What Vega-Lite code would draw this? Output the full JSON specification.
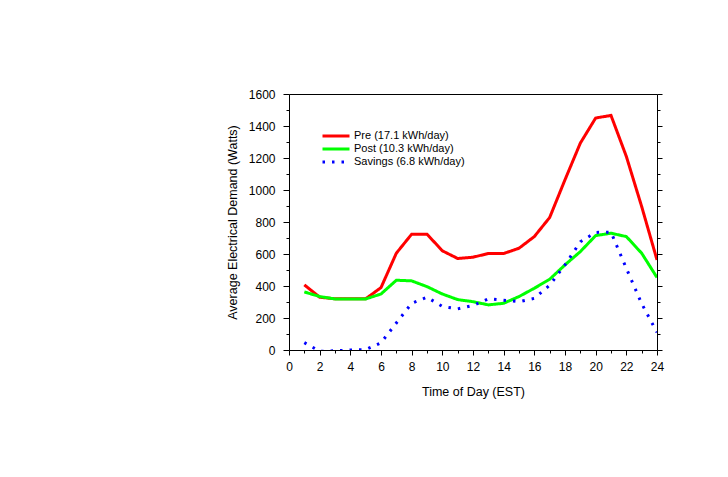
{
  "$schema": "https://vega.github.io/schema/vega-lite/v6.json",
  "width": 368,
  "height": 256,
  "autosize": "none",
  "padding": {"left": 289, "top": 94, "right": 71, "bottom": 127},
  "background": "white",
  "data": {
    "values": [
      {"hour": 1, "series": "Pre (17.1 kWh/day)", "watts": 407},
      {"hour": 2, "series": "Pre (17.1 kWh/day)", "watts": 330},
      {"hour": 3, "series": "Pre (17.1 kWh/day)", "watts": 320},
      {"hour": 4, "series": "Pre (17.1 kWh/day)", "watts": 320},
      {"hour": 5, "series": "Pre (17.1 kWh/day)", "watts": 320},
      {"hour": 6, "series": "Pre (17.1 kWh/day)", "watts": 390},
      {"hour": 7, "series": "Pre (17.1 kWh/day)", "watts": 605},
      {"hour": 8, "series": "Pre (17.1 kWh/day)", "watts": 724},
      {"hour": 9, "series": "Pre (17.1 kWh/day)", "watts": 724},
      {"hour": 10, "series": "Pre (17.1 kWh/day)", "watts": 620},
      {"hour": 11, "series": "Pre (17.1 kWh/day)", "watts": 572},
      {"hour": 12, "series": "Pre (17.1 kWh/day)", "watts": 580},
      {"hour": 13, "series": "Pre (17.1 kWh/day)", "watts": 603},
      {"hour": 14, "series": "Pre (17.1 kWh/day)", "watts": 603},
      {"hour": 15, "series": "Pre (17.1 kWh/day)", "watts": 636},
      {"hour": 16, "series": "Pre (17.1 kWh/day)", "watts": 709},
      {"hour": 17, "series": "Pre (17.1 kWh/day)", "watts": 828},
      {"hour": 18, "series": "Pre (17.1 kWh/day)", "watts": 1064},
      {"hour": 19, "series": "Pre (17.1 kWh/day)", "watts": 1293},
      {"hour": 20, "series": "Pre (17.1 kWh/day)", "watts": 1450},
      {"hour": 21, "series": "Pre (17.1 kWh/day)", "watts": 1466},
      {"hour": 22, "series": "Pre (17.1 kWh/day)", "watts": 1210},
      {"hour": 23, "series": "Pre (17.1 kWh/day)", "watts": 897},
      {"hour": 24, "series": "Pre (17.1 kWh/day)", "watts": 563},
      {"hour": 1, "series": "Post (10.3 kWh/day)", "watts": 363},
      {"hour": 2, "series": "Post (10.3 kWh/day)", "watts": 334},
      {"hour": 3, "series": "Post (10.3 kWh/day)", "watts": 319},
      {"hour": 4, "series": "Post (10.3 kWh/day)", "watts": 319},
      {"hour": 5, "series": "Post (10.3 kWh/day)", "watts": 319},
      {"hour": 6, "series": "Post (10.3 kWh/day)", "watts": 350},
      {"hour": 7, "series": "Post (10.3 kWh/day)", "watts": 436},
      {"hour": 8, "series": "Post (10.3 kWh/day)", "watts": 432},
      {"hour": 9, "series": "Post (10.3 kWh/day)", "watts": 396},
      {"hour": 10, "series": "Post (10.3 kWh/day)", "watts": 350},
      {"hour": 11, "series": "Post (10.3 kWh/day)", "watts": 315},
      {"hour": 12, "series": "Post (10.3 kWh/day)", "watts": 302},
      {"hour": 13, "series": "Post (10.3 kWh/day)", "watts": 282},
      {"hour": 14, "series": "Post (10.3 kWh/day)", "watts": 292},
      {"hour": 15, "series": "Post (10.3 kWh/day)", "watts": 334},
      {"hour": 16, "series": "Post (10.3 kWh/day)", "watts": 386},
      {"hour": 17, "series": "Post (10.3 kWh/day)", "watts": 442},
      {"hour": 18, "series": "Post (10.3 kWh/day)", "watts": 532},
      {"hour": 19, "series": "Post (10.3 kWh/day)", "watts": 615},
      {"hour": 20, "series": "Post (10.3 kWh/day)", "watts": 715},
      {"hour": 21, "series": "Post (10.3 kWh/day)", "watts": 730},
      {"hour": 22, "series": "Post (10.3 kWh/day)", "watts": 709},
      {"hour": 23, "series": "Post (10.3 kWh/day)", "watts": 605},
      {"hour": 24, "series": "Post (10.3 kWh/day)", "watts": 453},
      {"hour": 1, "series": "Savings (6.8 kWh/day)", "watts": 46},
      {"hour": 2, "series": "Savings (6.8 kWh/day)", "watts": -8},
      {"hour": 3, "series": "Savings (6.8 kWh/day)", "watts": -5},
      {"hour": 4, "series": "Savings (6.8 kWh/day)", "watts": 0},
      {"hour": 5, "series": "Savings (6.8 kWh/day)", "watts": 3},
      {"hour": 6, "series": "Savings (6.8 kWh/day)", "watts": 45},
      {"hour": 7, "series": "Savings (6.8 kWh/day)", "watts": 169},
      {"hour": 8, "series": "Savings (6.8 kWh/day)", "watts": 292},
      {"hour": 9, "series": "Savings (6.8 kWh/day)", "watts": 330},
      {"hour": 10, "series": "Savings (6.8 kWh/day)", "watts": 272},
      {"hour": 11, "series": "Savings (6.8 kWh/day)", "watts": 257},
      {"hour": 12, "series": "Savings (6.8 kWh/day)", "watts": 278},
      {"hour": 13, "series": "Savings (6.8 kWh/day)", "watts": 320},
      {"hour": 14, "series": "Savings (6.8 kWh/day)", "watts": 311},
      {"hour": 15, "series": "Savings (6.8 kWh/day)", "watts": 302},
      {"hour": 16, "series": "Savings (6.8 kWh/day)", "watts": 323},
      {"hour": 17, "series": "Savings (6.8 kWh/day)", "watts": 405},
      {"hour": 18, "series": "Savings (6.8 kWh/day)", "watts": 532},
      {"hour": 19, "series": "Savings (6.8 kWh/day)", "watts": 676},
      {"hour": 20, "series": "Savings (6.8 kWh/day)", "watts": 735},
      {"hour": 21, "series": "Savings (6.8 kWh/day)", "watts": 736},
      {"hour": 22, "series": "Savings (6.8 kWh/day)", "watts": 510},
      {"hour": 23, "series": "Savings (6.8 kWh/day)", "watts": 290},
      {"hour": 24, "series": "Savings (6.8 kWh/day)", "watts": 110}
    ]
  },
  "resolve": {"axis": {"x": "independent", "y": "independent"}},
  "layer": [
    {
      "mark": {"type": "line", "clip": true, "strokeCap": "butt", "strokeJoin": "miter"},
      "encoding": {
        "x": {
          "field": "hour", "type": "quantitative",
          "scale": {"domain": [0, 24], "nice": false, "zero": false},
          "axis": {
            "orient": "bottom",
            "values": [0, 2, 4, 6, 8, 10, 12, 14, 16, 18, 20, 22, 24],
            "tickSize": 5, "labelPadding": 6, "title": "Time of Day (EST)",
            "titlePadding": 13, "titleFontSize": 12.5
          }
        },
        "y": {
          "field": "watts", "type": "quantitative",
          "scale": {"domain": [0, 1600], "nice": false},
          "axis": {
            "orient": "left", "format": "d",
            "values": [0, 200, 400, 600, 800, 1000, 1200, 1400, 1600],
            "tickSize": 6, "labelPadding": 8, "title": "Average Electrical Demand (Watts)",
            "titlePadding": 9, "titleFontSize": 12.5
          }
        },
        "color": {
          "field": "series", "type": "nominal",
          "scale": {
            "domain": ["Pre (17.1 kWh/day)", "Post (10.3 kWh/day)", "Savings (6.8 kWh/day)"],
            "range": ["#ff0000", "#00ff00", "#0000ff"]
          },
          "legend": {"orient": "none", "legendX": 40.5, "legendY": 35.5, "title": null}
        },
        "strokeDash": {
          "field": "series", "type": "nominal",
          "scale": {
            "domain": ["Pre (17.1 kWh/day)", "Post (10.3 kWh/day)", "Savings (6.8 kWh/day)"],
            "range": [[1, 0], [1, 0], [2.5, 7]]
          },
          "legend": {"orient": "none", "legendX": 40.5, "legendY": 35.5, "title": null}
        },
        "strokeWidth": {
          "field": "series", "type": "nominal",
          "scale": {
            "domain": ["Pre (17.1 kWh/day)", "Post (10.3 kWh/day)", "Savings (6.8 kWh/day)"],
            "range": [3, 3, 2.5]
          },
          "legend": null
        }
      }
    },
    {
      "mark": {"type": "point", "opacity": 0},
      "encoding": {
        "x": {
          "field": "hour", "type": "quantitative",
          "axis": {
            "orient": "bottom", "values": [1, 3, 5, 7, 9, 11, 13, 15, 17, 19, 21, 23],
            "tickSize": 3, "labels": false, "domain": false, "title": null
          }
        },
        "y": {
          "field": "watts", "type": "quantitative",
          "axis": {
            "orient": "left", "values": [100, 300, 500, 700, 900, 1100, 1300, 1500],
            "tickSize": 3, "labels": false, "domain": false, "title": null
          }
        }
      }
    },
    {
      "mark": {"type": "point", "opacity": 0},
      "encoding": {
        "x": {
          "field": "hour", "type": "quantitative",
          "axis": {"orient": "top", "ticks": false, "labels": false, "domain": true, "title": null}
        },
        "y": {
          "field": "watts", "type": "quantitative",
          "axis": {
            "orient": "right", "values": [0, 200, 400, 600, 800, 1000, 1200, 1400, 1600],
            "tickSize": 5, "labels": false, "domain": true, "title": null
          }
        }
      }
    },
    {
      "mark": {"type": "point", "opacity": 0},
      "encoding": {
        "x": {"field": "hour", "type": "quantitative", "axis": null},
        "y": {
          "field": "watts", "type": "quantitative",
          "axis": {
            "orient": "right", "values": [100, 300, 500, 700, 900, 1100, 1300, 1500],
            "tickSize": 3, "labels": false, "domain": false, "title": null
          }
        }
      }
    }
  ],
  "config": {
    "font": "Liberation Sans",
    "view": {"stroke": null},
    "axis": {
      "grid": false,
      "domainColor": "#000000", "domainWidth": 1,
      "tickColor": "#000000", "tickWidth": 1,
      "labelColor": "#000000", "labelFontSize": 12, "labelFont": "Liberation Sans",
      "labelFlush": false, "labelOverlap": false, "labelBound": false,
      "titleColor": "#000000", "titleFontWeight": "normal", "titleFont": "Liberation Sans"
    },
    "legend": {
      "symbolType": "M-2.7,0H2.7", "symbolSize": 100, "symbolStrokeWidth": 3,
      "labelFontSize": 11, "labelFont": "Liberation Sans", "labelColor": "#000000",
      "labelOffset": 11.5, "rowPadding": -1, "padding": 0
    }
  }
}
